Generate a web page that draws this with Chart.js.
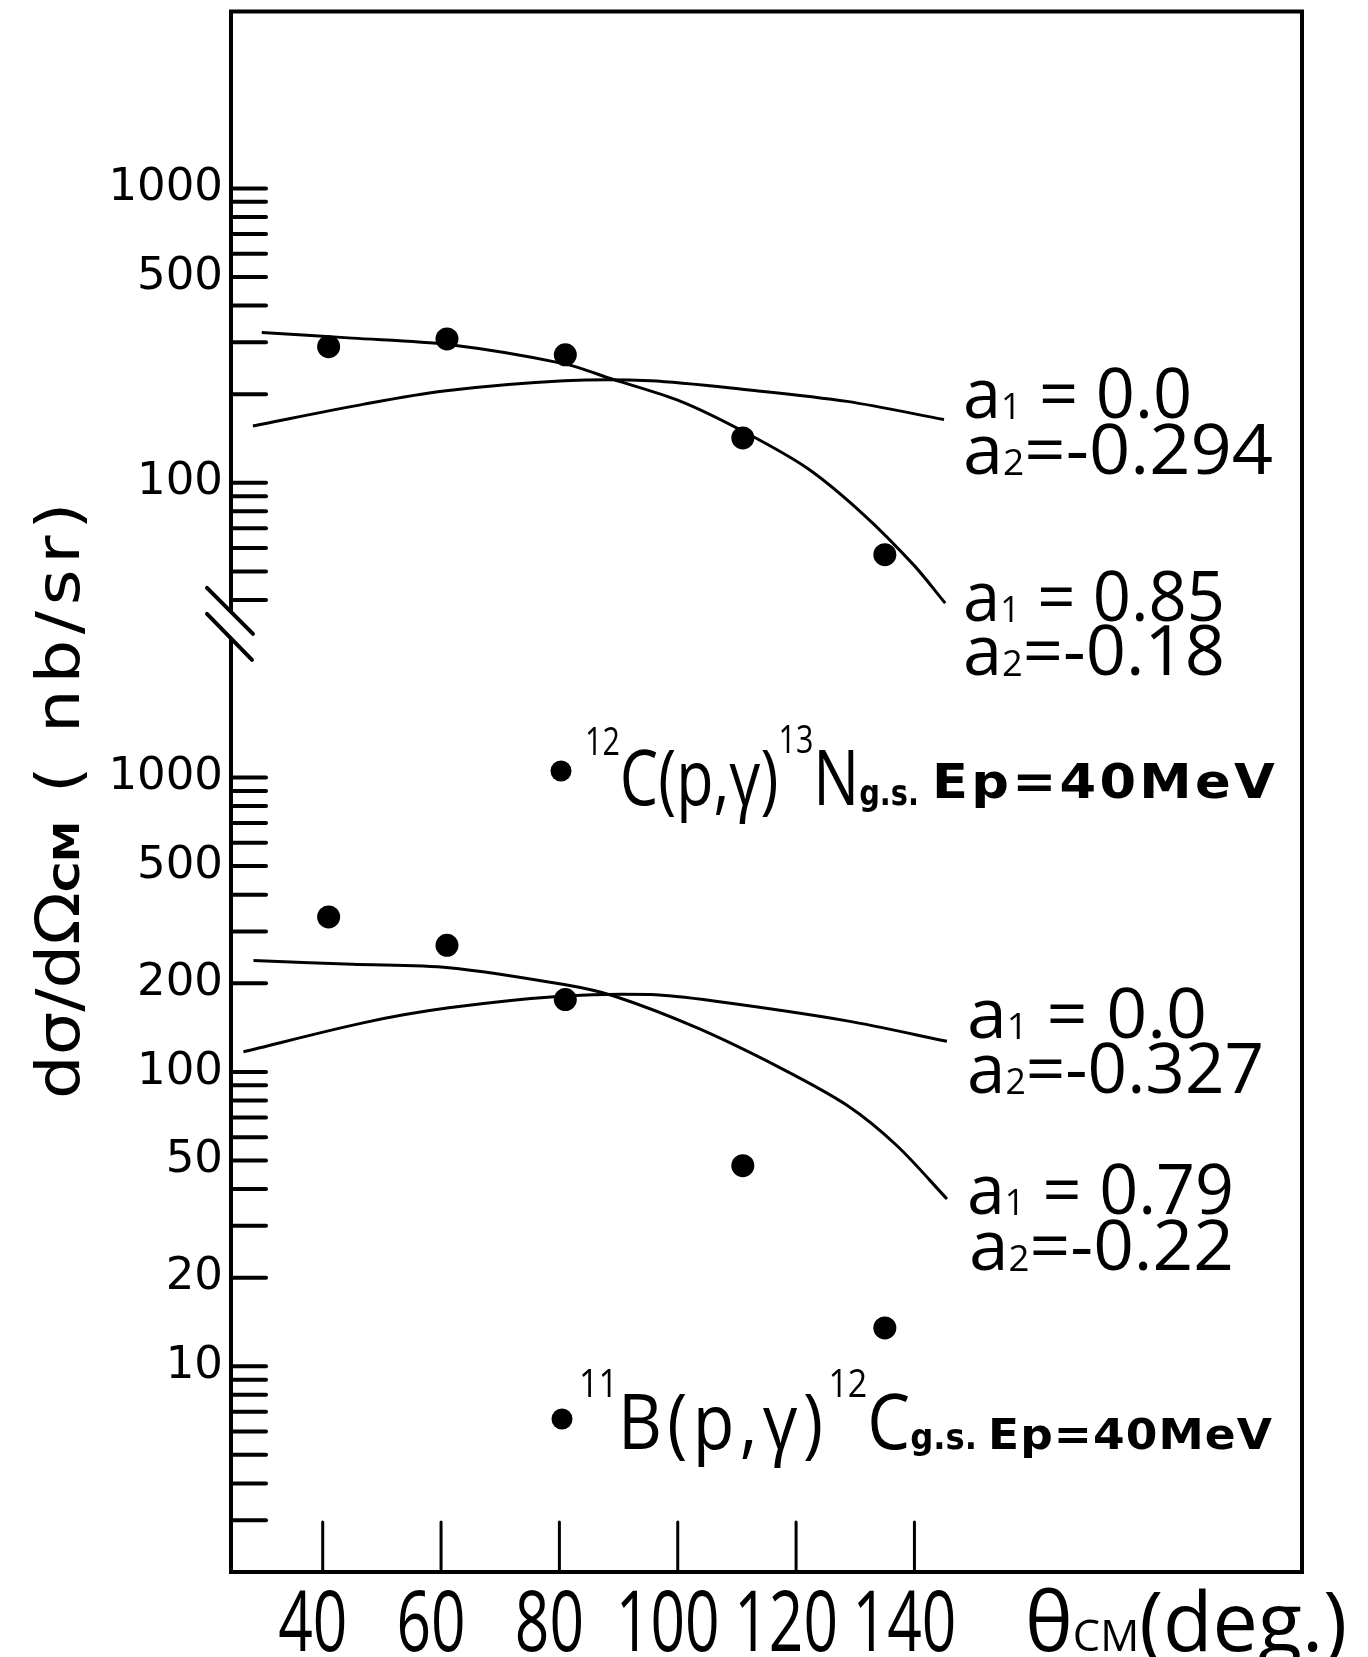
<!DOCTYPE html>
<html>
<head>
<meta charset="utf-8">
<script src="https://cdn.jsdelivr.net/npm/chart.js@4.4.1/dist/chart.umd.min.js"></script>
<style>
  html, body { margin: 0; padding: 0; background: #fff; }
  #wrap { width: 1368px; height: 1657px; position: relative; }
</style>
</head>
<body>
<div id="wrap"><canvas id="chart" width="1368" height="1657"></canvas></div>
<script>
// angle axis
const angleTicks = [40, 60, 80, 100, 120, 140];

// measured points (both reactions share the same angles)
const pointAngles = [41, 61, 81, 111, 135];
const carbonCross = [290, 308, 272, 142, 57];     // 12C(p,g)13N
const boronCross = [336, 269, 176, 48, 13.5];     // 11B(p,g)12C

// fit curves
const carbonFitAngles = [29.7, 45, 61.2, 80.7, 89.2, 100.5, 111.2, 121.9, 131.4, 139.9, 145.2];
const carbonFitValues = [324, 310, 295, 254, 224, 189, 149, 112, 78, 52.5, 39];
const carbonIsoAngles = [28.2, 47, 60.5, 80.8, 95.4, 111.7, 128.6, 145];
const carbonIsoValues = [156, 185, 205, 222, 222, 207, 189, 164];

const boronFitAngles = [28.3, 45, 61.3, 80.8, 89.2, 103.3, 117.4, 128.6, 137.1, 145.5];
const boronFitValues = [239, 232, 226, 198, 181, 141, 103, 77, 56, 37];
const boronIsoAngles = [26.6, 47, 61.3, 80.8, 95.4, 106.1, 128.6, 145.5];
const boronIsoValues = [117, 147, 165, 181, 183, 174, 149, 127];

// log axis ticks
const topTickValues = [40, 50, 60, 70, 80, 90, 100, 200, 300, 400, 500, 600, 700, 800, 900, 1000];
const topTickLabels = [100, 500, 1000];
const bottomTickValues = [3, 4, 5, 6, 7, 8, 9, 10, 20, 30, 40, 50, 60, 70, 80, 90,
                          100, 200, 300, 400, 500, 600, 700, 800, 900, 1000];
const bottomTickLabels = [10, 20, 50, 100, 200, 500, 1000];

const SANS = '"Open Sans", "Noto Sans", sans-serif';
const DEJA = '"DejaVu Sans", sans-serif';

function pairs(xs, ys) {
    return xs.map((x, i) => ({ x: x, y: ys[i] }));
}

function curve(label, xs, ys, axis) {
    return {
        label: label,
        data: pairs(xs, ys),
        yAxisID: axis,
        borderColor: '#000',
        borderWidth: 3,
        pointRadius: 0,
        fill: false,
        tension: 0.3
    };
}

function dots(label, ys, axis) {
    return {
        label: label,
        data: pairs(pointAngles, ys),
        yAxisID: axis,
        showLine: false,
        pointRadius: 11.5,
        pointBackgroundColor: '#000',
        pointBorderWidth: 0
    };
}

// draws a row of text pieces, squeezed or stretched to the given width
function drawRun(ctx, parts, x, y, width) {
    let total = 0;
    const widths = parts.map(p => {
        ctx.font = p[1];
        ctx.letterSpacing = (p[3] || 0) + 'px';
        const w = ctx.measureText(p[0]).width;
        total += w;
        return w;
    });
    const sx = width ? width / total : 1;
    ctx.save();
    ctx.translate(x, y);
    ctx.scale(sx, 1);
    let cx = 0;
    parts.forEach((p, i) => {
        ctx.font = p[1];
        ctx.letterSpacing = (p[3] || 0) + 'px';
        ctx.fillText(p[0], cx, p[2] || 0);
        cx += widths[i];
    });
    ctx.restore();
    ctx.letterSpacing = '0px';
}

function coefLine(main, sub, rest, x, y, width) {
    return [[[main, `70px ${SANS}`], [sub, `36px ${SANS}`, 1], [rest, `70px ${SANS}`]], x, y, width];
}

const coefLabels = [
    coefLine('a', '1', ' = 0.0', 963, 418, 229),
    coefLine('a', '2', '=-0.294', 963, 474, 310),
    coefLine('a', '1', ' = 0.85', 963, 621, 262),
    coefLine('a', '2', '=-0.18', 963, 675, 262),
    coefLine('a', '1', ' = 0.0', 967, 1038, 240),
    coefLine('a', '2', '=-0.327', 967, 1093, 297),
    coefLine('a', '1', ' = 0.79', 967, 1214, 267),
    coefLine('a', '2', '=-0.22', 969, 1270, 265)
];

const paperPlugin = {
    id: 'paper',
    afterDraw(chart) {
        const ctx = chart.ctx;
        const area = chart.chartArea;
        const xs = chart.scales.x;
        const yTop = chart.scales.yTop;
        const yBot = chart.scales.yBot;

        ctx.save();
        ctx.strokeStyle = '#000';
        ctx.fillStyle = '#000';
        ctx.lineCap = 'round';

        function line(x1, y1, x2, y2) {
            ctx.beginPath();
            ctx.moveTo(x1, y1);
            ctx.lineTo(x2, y2);
            ctx.stroke();
        }

        // inward tick marks
        ctx.lineWidth = 4;
        [yTop, yBot].forEach(s => s.ticks.forEach(t => {
            const py = s.getPixelForValue(t.value);
            line(area.left, py, area.left + 35, py);
        }));
        ctx.lineWidth = 3;
        xs.ticks.forEach(t => {
            const px = xs.getPixelForValue(t.value);
            line(px, area.bottom, px, area.bottom - 50);
        });

        // frame
        ctx.lineCap = 'butt';
        ctx.lineWidth = 4;
        ctx.strokeRect(area.left, area.top, area.right - area.left, area.bottom - area.top);

        // axis break
        const b = yTop.bottom;
        ctx.fillStyle = '#fff';
        ctx.fillRect(area.left - 4, b - 10, 8, 26);
        ctx.fillStyle = '#000';
        ctx.lineCap = 'round';
        line(area.left - 24, b - 34, area.left + 22, b + 12);
        line(area.left - 24, b - 8, area.left + 21, b + 38);

        // angle labels
        xs.ticks.forEach(t => {
            const px = xs.getPixelForValue(t.value) - 10;
            const s = String(t.value);
            ctx.font = `84px ${SANS}`;
            const w = ctx.measureText(s).width * 0.72;
            drawRun(ctx, [[s, `84px ${SANS}`]], px - w / 2, 1651, w);
        });
        drawRun(ctx, [['θ', `82px ${SANS}`], ['CM', `44px ${SANS}`], ['(deg.)', `82px ${SANS}`]],
            1025, 1651, 322);

        // cross section title
        ctx.save();
        ctx.translate(79, 1099);
        ctx.rotate(-Math.PI / 2);
        drawRun(ctx, [['dσ/dΩ', `60px ${DEJA}`], ['CM', `bold 36px ${DEJA}`], [' ( nb/sr)', `60px ${DEJA}`, 0, 5]],
            0, 0, 602);
        ctx.restore();

        // fit coefficients
        coefLabels.forEach(c => drawRun(ctx, c[0], c[1], c[2], c[3]));

        // reaction keys
        ctx.beginPath();
        ctx.arc(561, 771, 10.5, 0, Math.PI * 2);
        ctx.fill();
        ctx.beginPath();
        ctx.arc(562, 1419, 10.5, 0, Math.PI * 2);
        ctx.fill();

        const sup = `38px ${SANS}`;
        const big = `76px ${SANS}`;
        const small = `600 36px ${DEJA}`;
        drawRun(ctx, [['12', sup, -50], ['C(p,γ)', big], ['13', sup, -52], ['N', big], ['g.s.', small]], 585, 805, 334);
        drawRun(ctx, [['Ep=40MeV', `bold 48px ${DEJA}`, 0, 3]], 932, 798, 346);
        drawRun(ctx, [['11', sup, -52], ['B(p,γ)', big, 0, 6], ['12', sup, -52], ['C', big], ['g.s.', small]], 579, 1449, 398);
        drawRun(ctx, [['Ep=40MeV', `bold 42px ${DEJA}`, 0, 1]], 988, 1449, 285);

        ctx.restore();
    }
};

function logAxis(tickValues, tickLabels, min, max, weight, order) {
    return {
        type: 'logarithmic',
        position: 'left',
        stack: 'sigma',
        stackWeight: weight,
        weight: order,
        min: min,
        max: max,
        grid: { display: false, drawTicks: false },
        border: { display: false },
        afterBuildTicks: s => { s.ticks = tickValues.map(v => ({ value: v })); },
        afterFit: s => {
            s.width = 231;
            s.paddingTop = 0;
            s.paddingBottom = 0;
        },
        ticks: {
            autoSkip: false,
            padding: 8,
            color: '#000',
            font: { family: DEJA, size: 45 },
            callback: v => tickLabels.includes(v) ? String(v) : ''
        }
    };
}

new Chart(document.getElementById('chart'), {
    type: 'line',
    data: {
        datasets: [
            curve('12C a1=0.85 a2=-0.18', carbonFitAngles, carbonFitValues, 'yTop'),
            curve('12C a1=0.0 a2=-0.294', carbonIsoAngles, carbonIsoValues, 'yTop'),
            dots('12C(p,γ)13N g.s.', carbonCross, 'yTop'),
            curve('11B a1=0.79 a2=-0.22', boronFitAngles, boronFitValues, 'yBot'),
            curve('11B a1=0.0 a2=-0.327', boronIsoAngles, boronIsoValues, 'yBot'),
            dots('11B(p,γ)12C g.s.', boronCross, 'yBot')
        ]
    },
    options: {
        responsive: false,
        animation: false,
        events: [],
        layout: { padding: { top: 11, right: 66, left: 0, bottom: 0 } },
        plugins: {
            legend: { display: false },
            tooltip: { enabled: false }
        },
        scales: {
            x: {
                type: 'linear',
                min: 24.5,
                max: 205.5,
                grid: { display: false, drawTicks: false },
                border: { display: false },
                afterBuildTicks: s => { s.ticks = angleTicks.map(v => ({ value: v })); },
                afterFit: s => {
                    s.height = 85;
                    s.paddingLeft = 0;
                    s.paddingRight = 0;
                },
                ticks: { display: false }
            },
            yBot: logAxis(bottomTickValues, bottomTickLabels, 2, 3380, 3.2279, 0),
            yTop: logAxis(topTickValues, topTickLabels, 33.7, 3990, 2.0733, 1)
        }
    },
    plugins: [paperPlugin]
});
</script>
</body>
</html>
